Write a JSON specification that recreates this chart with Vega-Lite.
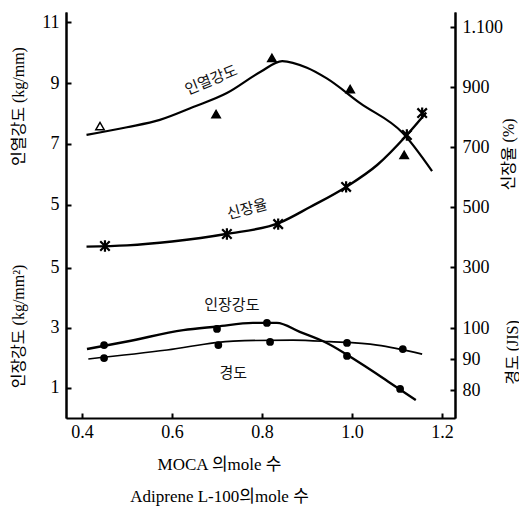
{
  "$schema": "https://vega.github.io/schema/vega-lite/v6.json",
  "width": 389,
  "height": 406,
  "autosize": {"type": "none"},
  "padding": {"left": 66, "top": 12, "right": 64, "bottom": 94},
  "background": "white",
  "config": {
    "view": {"stroke": null},
    "axis": {
      "grid": false,
      "domainColor": "black",
      "domainWidth": 2,
      "tickColor": "black",
      "tickWidth": 2,
      "tickSize": -5,
      "labelPadding": 12,
      "labelFont": "Liberation Serif",
      "labelFontSize": 18,
      "labelColor": "black",
      "titleFont": "Liberation Serif, Noto Sans CJK KR",
      "titleFontSize": 16,
      "titleFontWeight": "normal",
      "titleColor": "black",
      "titleAlign": "center",
      "titleBaseline": "middle"
    },
    "text": {"font": "Noto Sans CJK KR", "fontSize": 15, "color": "#111"}
  },
  "datasets": {
    "tearCurve": [
      {"x": 0.41, "y": 7.30}, {"x": 0.50, "y": 7.55}, {"x": 0.573, "y": 7.79},
      {"x": 0.647, "y": 8.21}, {"x": 0.722, "y": 8.67}, {"x": 0.796, "y": 9.36},
      {"x": 0.845, "y": 9.72}, {"x": 0.90, "y": 9.50}, {"x": 0.944, "y": 9.15},
      {"x": 1.018, "y": 8.34}, {"x": 1.113, "y": 7.36}, {"x": 1.178, "y": 6.11}
    ],
    "tearPts": [
      {"x": 0.44, "y": 7.59, "open": true}, {"x": 0.698, "y": 7.98, "open": false},
      {"x": 0.822, "y": 9.82, "open": false}, {"x": 0.996, "y": 8.80, "open": false},
      {"x": 1.116, "y": 6.64, "open": false}
    ],
    "elongCurve": [
      {"x": 0.41, "y": 368}, {"x": 0.50, "y": 372}, {"x": 0.60, "y": 385},
      {"x": 0.72, "y": 410}, {"x": 0.84, "y": 448}, {"x": 0.907, "y": 500},
      {"x": 0.987, "y": 567}, {"x": 1.056, "y": 640}, {"x": 1.122, "y": 740},
      {"x": 1.165, "y": 815}
    ],
    "elongPts": [
      {"x": 0.451, "y": 370}, {"x": 0.722, "y": 410}, {"x": 0.836, "y": 443},
      {"x": 0.987, "y": 567}, {"x": 1.122, "y": 740}, {"x": 1.156, "y": 813}
    ],
    "tensCurve": [
      {"x": 0.411, "y": 2.30}, {"x": 0.50, "y": 2.55}, {"x": 0.625, "y": 2.93},
      {"x": 0.70, "y": 3.05}, {"x": 0.78, "y": 3.17}, {"x": 0.833, "y": 3.17},
      {"x": 0.884, "y": 2.87}, {"x": 0.944, "y": 2.50}, {"x": 1.018, "y": 1.83},
      {"x": 1.08, "y": 1.22}, {"x": 1.142, "y": 0.60}
    ],
    "tensPts": [
      {"x": 0.449, "y": 2.43}, {"x": 0.70, "y": 2.97}, {"x": 0.811, "y": 3.17},
      {"x": 0.989, "y": 2.07}, {"x": 1.107, "y": 0.97}
    ],
    "hardCurve": [
      {"x": 0.414, "y": 90.0}, {"x": 0.589, "y": 92.9}, {"x": 0.736, "y": 95.8},
      {"x": 0.869, "y": 96.1}, {"x": 0.95, "y": 95.6}, {"x": 1.056, "y": 94.5},
      {"x": 1.156, "y": 91.6}
    ],
    "hardPts": [
      {"x": 0.449, "y": 90.3}, {"x": 0.703, "y": 94.5}, {"x": 0.818, "y": 95.5},
      {"x": 0.989, "y": 95.2}, {"x": 1.113, "y": 93.2}
    ]
  },
  "encoding": {
    "x": {
      "field": "x",
      "type": "quantitative",
      "scale": {"domain": [0.3644, 1.229], "nice": false, "zero": false},
      "axis": {
        "values": [0.4, 0.6, 0.8, 1.0, 1.2],
        "format": ".1f",
        "labelPadding": 10,
        "title": ["MOCA 의mole 수", "Adiprene L-100의mole 수"],
        "titleX": 153,
        "titleY": 38,
        "titleBaseline": "top",
        "titleLineHeight": 32,
        "titleFontSize": 17
      }
    }
  },
  "layer": [
    {
      "encoding": {
        "y": {
          "field": "y",
          "type": "quantitative",
          "scale": {"domain": [-1.984, 11.328], "nice": false, "zero": false},
          "axis": {
            "orient": "left",
            "values": [5, 7, 9, 11],
            "title": "인열강도 (kg/mm)",
            "titleAngle": -90,
            "titleX": -48,
            "titleY": 94
          }
        }
      },
      "layer": [
        {
          "data": {"name": "tearCurve"},
          "mark": {"type": "line", "interpolate": "monotone", "color": "black", "strokeWidth": 2.2}
        },
        {
          "data": {"name": "tearPts"},
          "mark": {"type": "point", "shape": "triangle-up", "size": 70, "stroke": "black", "strokeWidth": 1.5, "filled": false, "opacity": 1},
          "encoding": {
            "fill": {"condition": {"test": "datum.open", "value": "white"}, "value": "black"}
          }
        },
        {
          "data": {"values": [{"x": 0.687, "y": 9.10, "label": "인열강도"}]},
          "mark": {"type": "text", "angle": -22},
          "encoding": {"text": {"field": "label"}}
        }
      ]
    },
    {
      "encoding": {
        "y": {
          "field": "y",
          "type": "quantitative",
          "scale": {"domain": [-203.3, 1150], "nice": false, "zero": false},
          "axis": {
            "orient": "right",
            "values": [300, 500, 700, 900, 1100],
            "labelExpr": "datum.value == 1100 ? '1.100' : datum.label",
            "title": "신장율 (%)",
            "titleAngle": -90,
            "titleX": 53,
            "titleY": 142
          }
        }
      },
      "layer": [
        {
          "data": {"name": "elongCurve"},
          "mark": {"type": "line", "interpolate": "monotone", "color": "black", "strokeWidth": 2.4}
        },
        {
          "data": {"name": "elongPts"},
          "mark": {"type": "point", "shape": "M-1,-1L1,1M-1,1L1,-1M0,-1.2L0,1.2", "size": 90, "stroke": "black", "strokeWidth": 2.2, "filled": false, "opacity": 1}
        },
        {
          "data": {"values": [{"x": 0.767, "y": 493, "label": "신장율"}]},
          "mark": {"type": "text", "angle": -15},
          "encoding": {"text": {"field": "label"}}
        }
      ]
    },
    {
      "encoding": {
        "y": {
          "field": "y",
          "type": "quantitative",
          "scale": {"domain": [0, 13.533], "nice": false, "zero": false},
          "axis": {
            "orient": "left",
            "values": [1, 3, 5],
            "title": "인장강도 (kg/mm²)",
            "titleAngle": -90,
            "titleX": -48,
            "titleY": 314
          }
        }
      },
      "layer": [
        {
          "data": {"name": "tensCurve"},
          "mark": {"type": "line", "interpolate": "monotone", "color": "black", "strokeWidth": 2.4}
        },
        {
          "data": {"name": "tensPts"},
          "mark": {"type": "point", "shape": "circle", "size": 60, "color": "black", "filled": true, "opacity": 1}
        },
        {
          "data": {"values": [{"x": 0.733, "y": 3.77, "label": "인장강도"}]},
          "mark": {"type": "text"},
          "encoding": {"text": {"field": "label"}}
        }
      ]
    },
    {
      "encoding": {
        "y": {
          "field": "y",
          "type": "quantitative",
          "scale": {"domain": [70.97, 201.94], "nice": false, "zero": false},
          "axis": {
            "orient": "right",
            "values": [80, 90, 100],
            "title": "경도 (JIS)",
            "titleAngle": -90,
            "titleX": 57,
            "titleY": 340
          }
        }
      },
      "layer": [
        {
          "data": {"name": "hardCurve"},
          "mark": {"type": "line", "interpolate": "monotone", "color": "black", "strokeWidth": 1.7}
        },
        {
          "data": {"name": "hardPts"},
          "mark": {"type": "point", "shape": "circle", "size": 60, "color": "black", "filled": true, "opacity": 1}
        },
        {
          "data": {"values": [{"x": 0.736, "y": 85.5, "label": "경도"}]},
          "mark": {"type": "text"},
          "encoding": {"text": {"field": "label"}}
        }
      ]
    }
  ],
  "resolve": {"scale": {"y": "independent"}, "axis": {"y": "independent"}}
}
